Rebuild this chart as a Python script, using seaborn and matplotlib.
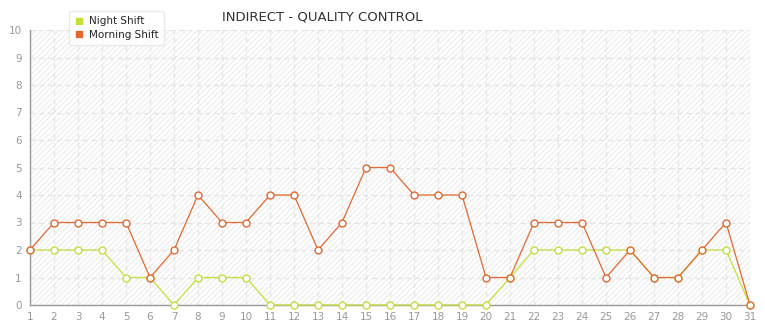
import matplotlib
matplotlib.use("Agg")
import matplotlib.pyplot as plt
import seaborn as sns
import pandas as pd
from matplotlib.patches import Rectangle
from matplotlib.lines import Line2D

days = list(range(1, 32))
night_shift = [2, 2, 2, 2, 1, 1, 0, 1, 1, 1, 0, 0, 0, 0, 0, 0, 0, 0, 0, 0, 1, 2, 2, 2, 2, 2, 1, 1, 2, 2, 0]
morning_shift = [2, 3, 3, 3, 3, 1, 2, 4, 3, 3, 4, 4, 2, 3, 5, 5, 4, 4, 4, 1, 1, 3, 3, 3, 1, 2, 1, 1, 2, 3, 0]
title = "INDIRECT - QUALITY CONTROL"

night_color = "#c3e03a"
morning_color = "#e2692f"

df = pd.DataFrame({
    "day": days * 2,
    "value": night_shift + morning_shift,
    "series": ["Night Shift"] * len(days) + ["Morning Shift"] * len(days),
})

sns.set_style("white")
plt.rcParams['font.family'] = ['DejaVu Sans']

fig = plt.figure(figsize=(7.65, 3.2), dpi=100)
ax = fig.add_axes([30 / 765, 1 - 305 / 320, 720 / 765, 275 / 320])

# hatched background
bg = Rectangle((0, 0), 1, 1, transform=ax.transAxes, facecolor="white",
               edgecolor="#efefef", hatch="//////", linewidth=0, zorder=0)
ax.add_patch(bg)

sns.lineplot(data=df, x="day", y="value", hue="series",
             palette={"Night Shift": night_color, "Morning Shift": morning_color},
             hue_order=["Night Shift", "Morning Shift"],
             marker="o", markersize=5, markerfacecolor="white",
             markeredgewidth=1.0, linewidth=0.9, legend=False, ax=ax, zorder=3)
for line, c in zip(ax.get_lines(), [night_color, morning_color]):
    line.set_markeredgecolor(c)
    line.set_clip_on(False)

ax.set_xlim(1, 31)
ax.set_ylim(0, 10)
ax.set_xticks(days)
ax.set_yticks(range(0, 11))
ax.grid(True, color="#e4e4e4", linestyle=(0, (4, 3)), linewidth=0.9)
ax.set_axisbelow(True)
ax.set_xlabel("")
ax.set_ylabel("")
for s in ["top", "right"]:
    ax.spines[s].set_visible(False)
for s in ["left", "bottom"]:
    ax.spines[s].set_color("#999999")
    ax.spines[s].set_linewidth(1.0)
ax.tick_params(axis="both", colors="#999999", labelcolor="#999999",
               labelsize=7.5, length=4, width=0.8, pad=2)
ax.tick_params(axis="x", pad=1)

fig.text(322 / 765, 1 - 17 / 320, title, ha="center", va="center",
         fontsize=9.5, color="#333333")

handles = [Line2D([], [], marker="s", linestyle="none", markersize=5, color=night_color),
           Line2D([], [], marker="s", linestyle="none", markersize=5, color=morning_color)]
leg = fig.legend(handles, ["Night Shift", "Morning Shift"],
                 loc="upper left", bbox_to_anchor=(64 / 765, 1 - 6 / 320),
                 fontsize=7.5, frameon=True, handlelength=0.8, handletextpad=0.6,
                 labelspacing=0.35, borderpad=0.5, fancybox=True, shadow=False)
leg.get_frame().set_edgecolor("#e6e6e6")
leg.get_frame().set_facecolor("white")

fig.savefig("out.png", dpi=100)
